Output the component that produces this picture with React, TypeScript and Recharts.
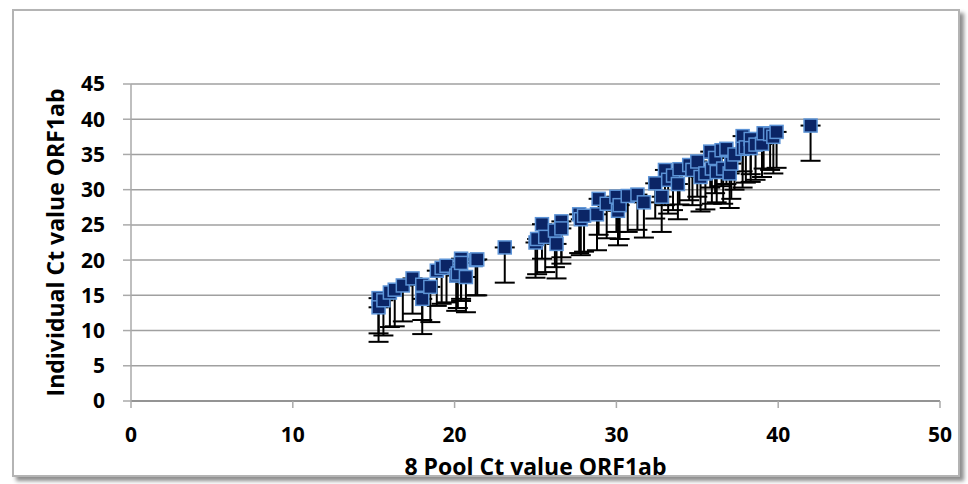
import React from "react";
import {
  ScatterChart,
  Scatter,
  XAxis,
  YAxis,
  CartesianGrid,
  ErrorBar,
} from "recharts";

// 8 Pool Ct value ORF1ab (x)
const poolCt = [
  15.3, 15.3, 15.6, 16.0, 16.3, 16.8, 17.4, 18.0, 18.0, 18.5, 18.9, 19.2, 19.5,
  20.1, 20.2, 20.4, 20.4, 20.7, 21.3, 21.4, 23.1,
  25.0, 25.1, 25.4, 25.6, 26.3, 26.2, 26.6, 26.6, 27.7, 27.8, 28.0, 28.9, 28.8,
  29.4, 30.0, 30.1, 30.2, 30.7, 31.3, 31.7,
  32.4, 32.8, 33.0, 33.2, 33.5, 33.8, 33.9, 34.5, 34.7, 35.0, 35.2, 35.5, 35.8,
  35.9, 36.1, 36.2, 36.5, 36.6, 36.8, 37.0, 37.1, 37.3, 37.8, 37.8, 38.0, 38.3,
  38.3, 38.6, 39.0, 39.1, 39.5, 39.7, 39.9, 42.0,
];

// Individual Ct value ORF1ab (y)
const individualCt = [
  14.6, 13.3, 14.3, 15.4, 15.8, 16.4, 17.4, 16.5, 14.5, 16.2, 18.5, 18.9, 19.2,
  17.8, 18.1, 20.2, 19.6, 17.6, 20.0, 20.1, 21.8,
  22.5, 23.0, 25.1, 23.3, 22.3, 24.2, 25.5, 24.5, 26.5, 25.8, 26.3, 28.7, 26.5,
  28.0, 29.0, 27.0, 27.8, 29.1, 29.3, 28.2,
  30.9, 29.0, 32.8, 31.4, 32.0, 30.8, 32.9, 33.5, 32.8, 34.0, 31.8, 32.3, 35.4,
  33.0, 34.5, 32.5, 35.6, 33.0, 35.8, 32.3, 33.7, 35.0, 37.6, 35.8, 36.0, 37.2,
  35.9, 36.4, 36.5, 38.0, 37.9, 37.5, 38.2, 39.1,
];

// Lower error (minus) for each point
const lowerError = [
  5, 4.9, 5, 4.9, 5.2, 5.1, 5, 5, 5, 5, 5, 5.1, 5.2,
  5, 4.9, 5.7, 5.4, 5, 5, 5.1, 5,
  5, 5, 4.9, 5, 4.9, 5.2, 5.1, 5, 5.5, 5.1, 5.1, 5.1, 5.1,
  4.9, 5, 4.9, 4.8, 5.1, 5, 5,
  5, 5, 5, 4.8, 4.9, 5, 5, 5, 5, 5, 4.9, 5.1, 5.1,
  5, 5, 4.3, 5.1, 5, 5, 4.9, 5, 5, 5, 5.5, 5, 5,
  4.8, 5, 4.7, 5, 5.1, 5.2, 5.1, 5,
];

const xTicks = [0, 10, 20, 30, 40, 50];
const yTicks = [0, 5, 10, 15, 20, 25, 30, 35, 40, 45];

const data = poolCt.map((x, i) => ({
  x,
  y: individualCt[i],
  err: [lowerError[i], 0],
}));

const FONT = "'Open Sans', 'DejaVu Sans', sans-serif";

const SquareMarker = (props: any) => {
  const { cx, cy } = props;
  if (cx == null || cy == null) return null;
  const s = 13;
  return (
    <rect
      x={cx - s / 2}
      y={cy - s / 2}
      width={s}
      height={s}
      fill="#0b2566"
      stroke="#5c93d6"
      strokeWidth={1.5}
    />
  );
};

const YLabel = (props: any) => {
  const vb = props.viewBox || {};
  const cx = vb.x + 24;
  const cy = vb.y + vb.height / 2;
  return (
    <text
      x={cx}
      y={cy}
      transform={`rotate(-90, ${cx}, ${cy})`}
      textAnchor="middle"
      dominantBaseline="central"
      fontFamily={FONT}
      fontWeight={700}
      fontSize={23}
      fill="#000"
    >
      Individual Ct value ORF1ab
    </text>
  );
};

export default function App() {
  return (
    <div
      style={{
        position: "absolute",
        left: 0,
        top: 0,
        width: 968,
        height: 484,
        background: "#fff",
      }}
    >
      <div
        style={{
          position: "absolute",
          left: 12,
          top: 9,
          width: 944,
          height: 464,
          border: "2px solid #b4b4b4",
          boxShadow: "4px 4px 4px rgba(0,0,0,0.45)",
          background: "#fff",
        }}
      />
      <div style={{ position: "absolute", left: 0, top: 0 }}>
        <ScatterChart
          width={968}
          height={484}
          margin={{ top: 84, right: 28, bottom: 5, left: 31 }}
        >
          <CartesianGrid
            vertical={false}
            stroke="#a0a0a0"
            strokeWidth={1.5}
          />
          <XAxis
            type="number"
            dataKey="x"
            domain={[0, 50]}
            ticks={xTicks}
            height={78}
            tickSize={7}
            tickMargin={19}
            axisLine={{ stroke: "#888", strokeWidth: 1.5 }}
            tickLine={{ stroke: "#aaa", strokeWidth: 1.5 }}
            tick={{ fill: "#000", fontSize: 21, fontWeight: 700, fontFamily: FONT }}
            label={{
              value: "8 Pool Ct value ORF1ab",
              position: "insideBottom",
              offset: 4,
              fill: "#000",
              fontSize: 23,
              fontWeight: 700,
              fontFamily: FONT,
            }}
          />
          <YAxis
            type="number"
            dataKey="y"
            domain={[0, 45]}
            ticks={yTicks}
            width={100}
            tickSize={8}
            tickMargin={18}
            axisLine={{ stroke: "#aaa", strokeWidth: 1.5 }}
            tickLine={{ stroke: "#aaa", strokeWidth: 1.5 }}
            tick={{ fill: "#000", fontSize: 21, fontWeight: 700, fontFamily: FONT }}
            label={<YLabel />}
          />
          <Scatter
            data={data}
            shape={<SquareMarker />}
            isAnimationActive={false}
          >
            <ErrorBar
              dataKey="err"
              direction="y"
              width={10}
              stroke="#000"
              strokeWidth={2}
              isAnimationActive={false}
            />
          </Scatter>
        </ScatterChart>
      </div>
    </div>
  );
}
